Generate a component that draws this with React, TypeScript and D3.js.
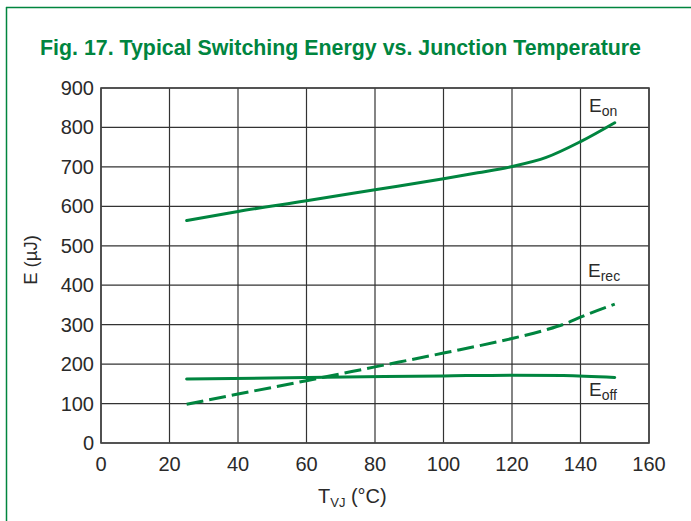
import React from "react";
import * as d3 from "d3";

const xTicks = [0, 20, 40, 60, 80, 100, 120, 140, 160];
const yTicks = [0, 100, 200, 300, 400, 500, 600, 700, 800, 900];

const eonT = [25, 40, 60, 80, 100, 110, 120, 130, 140, 150];
const eonE = [564, 587, 614, 642, 670, 685, 701, 724, 764, 812];

const erecT = [25, 40, 60, 80, 100, 120, 130, 136, 140, 150];
const erecE = [98, 124, 158, 193, 228, 265, 287, 304, 319, 352];

const eoffT = [25, 60, 100, 120, 135, 150];
const eoffE = [162, 166, 170, 172, 171, 166];

const title = "Fig. 17. Typical Switching Energy vs. Junction Temperature";

const W = 691, H = 521;
const L = 101, R = 649, T = 88, B = 443;
const green = "#00853f";
const textCol = "#2a2a2a";

export default function App() {
  const x = d3.scaleLinear().domain([0, 160]).range([L, R]);
  const y = d3.scaleLinear().domain([0, 900]).range([B, T]);
  const line = (ts: number[], es: number[]) =>
    d3.line<number>().x((_, i) => x(ts[i])).y((v) => y(v)).curve(d3.curveMonotoneX)(es) || "";

  return (
    <svg width={W} height={H} style={{ position: "absolute", left: 0, top: 0 }}
      fontFamily="Liberation Sans, Arial, sans-serif">
      <rect x={0} y={0} width={W} height={H} fill="#fff" />
      <line x1={6.5} y1={7} x2={6.5} y2={H} stroke={green} strokeWidth={1.5} />
      <line x1={6} y1={7.5} x2={W} y2={7.5} stroke={green} strokeWidth={1.5} />
      <text x={40} y={55} fill={green} fontWeight="bold" fontSize={21.5}
        fontFamily="Liberation Sans Narrow, Arial Narrow, Liberation Sans, sans-serif"
        textLength={601} lengthAdjust="spacingAndGlyphs">{title}</text>
      {xTicks.map((t) => (
        <line key={"gx" + t} x1={x(t)} x2={x(t)} y1={T} y2={B} stroke="#333" strokeWidth={1.2} />
      ))}
      {yTicks.map((t) => (
        <line key={"gy" + t} x1={L} x2={R} y1={y(t)} y2={y(t)} stroke="#333" strokeWidth={1.2} />
      ))}
      <rect x={L} y={T} width={R - L} height={B - T} fill="none" stroke="#444" strokeWidth={1.6} />
      {yTicks.map((t) => (
        <text key={"ty" + t} x={94} y={y(t) + 7} textAnchor="end" fontSize={20} fill={textCol}>{t}</text>
      ))}
      {xTicks.map((t) => (
        <text key={"tx" + t} x={x(t)} y={471} textAnchor="middle" fontSize={20} fill={textCol}>{t}</text>
      ))}
      <text transform={`translate(37,${260}) rotate(-90)`} textAnchor="middle" fontSize={18.5} fill={textCol}>E (µJ)</text>
      <text x={318} y={503} fontSize={20} fill={textCol}>T<tspan fontSize={13} dy={4}>VJ</tspan><tspan dy={-4}> (°C)</tspan></text>

      <path d={line(eonT, eonE)} fill="none" stroke={green} strokeWidth={3} strokeLinecap="round" />
      <path d={line(eoffT, eoffE)} fill="none" stroke={green} strokeWidth={3} strokeLinecap="round" />
      <path d={line(erecT, erecE)} fill="none" stroke={green} strokeWidth={3} strokeDasharray="17 6" />

      <text x={589} y={112} fontSize={19} fill={textCol}>E<tspan fontSize={14} dy={4}>on</tspan></text>
      <text x={588} y={277} fontSize={19} fill={textCol}>E<tspan fontSize={14} dy={4}>rec</tspan></text>
      <text x={589} y={396} fontSize={19} fill={textCol}>E<tspan fontSize={14} dy={4}>off</tspan></text>
    </svg>
  );
}
